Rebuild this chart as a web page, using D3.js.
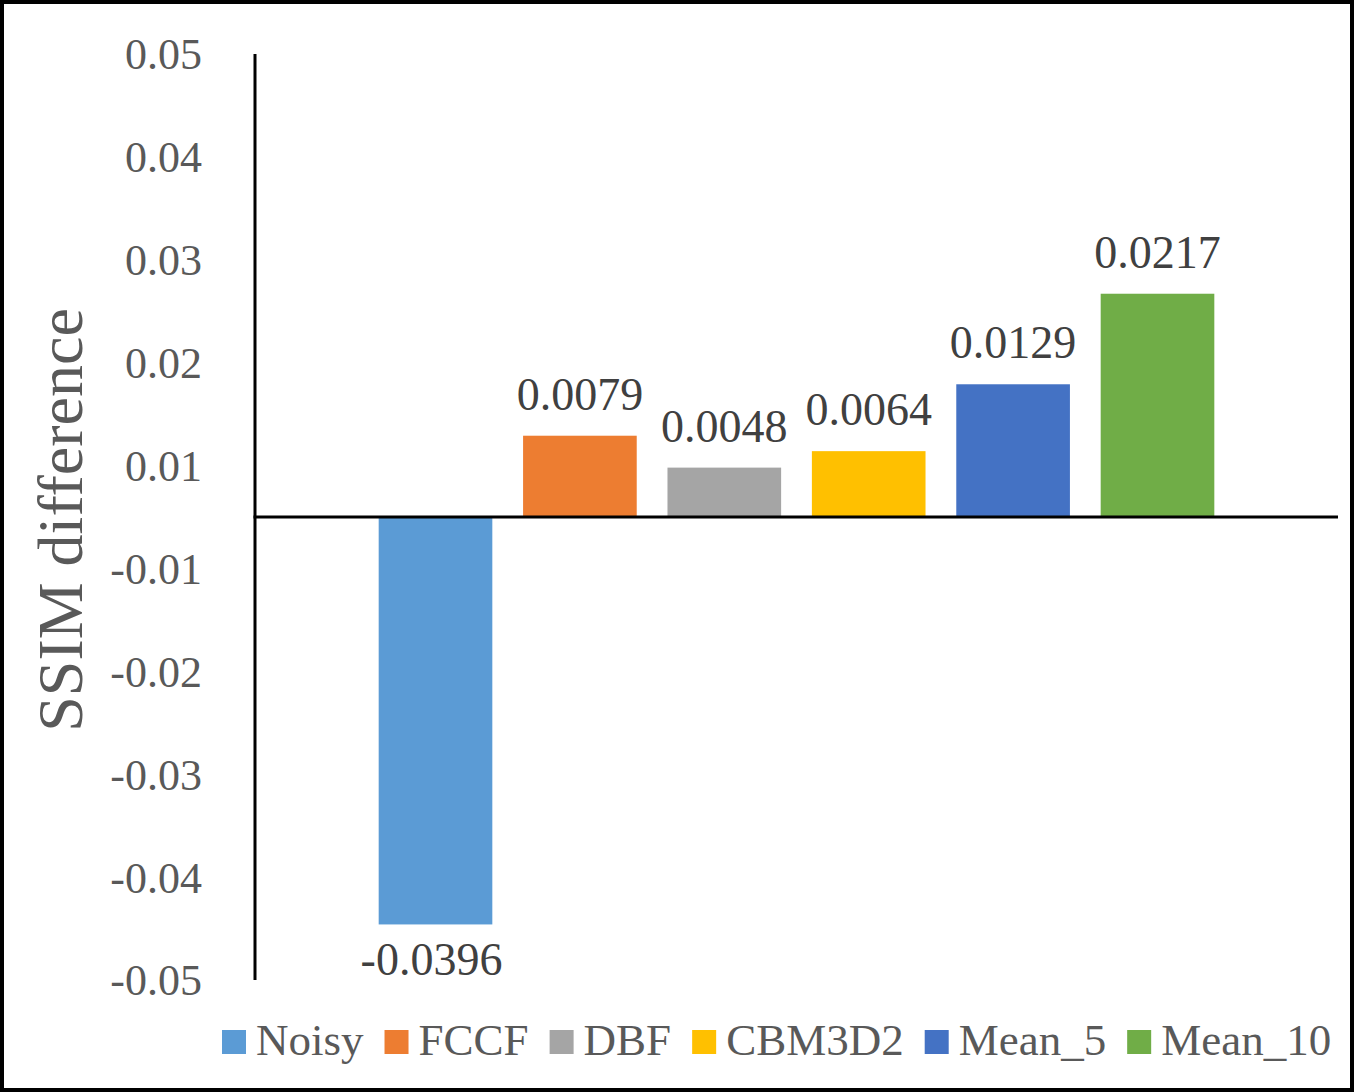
<!DOCTYPE html>
<html>
<head>
<meta charset="utf-8">
<script src="https://cdn.jsdelivr.net/npm/d3@7"></script>
<style>
  html, body { margin: 0; padding: 0; background: #fff; }
  svg { display: block; }
  text { font-family: "Liberation Serif", "Times New Roman", serif; }
</style>
</head>
<body>
<script>
// ---- data ----
const series = ["Noisy", "FCCF", "DBF", "CBM3D2", "Mean_5", "Mean_10"];
const values = [-0.0396, 0.0079, 0.0048, 0.0064, 0.0129, 0.0217];
const valueLabels = ["-0.0396", "0.0079", "0.0048", "0.0064", "0.0129", "0.0217"];
const colors = ["#5B9BD5", "#ED7D31", "#A5A5A5", "#FFC000", "#4472C4", "#70AD47"];
const tickValues = [0.045, 0.035, 0.025, 0.015, 0.005, -0.005, -0.015, -0.025, -0.035, -0.045];
const tickLabels = ["0.05", "0.04", "0.03", "0.02", "0.01", "-0.01", "-0.02", "-0.03", "-0.04", "-0.05"];
const yTitle = "SSIM difference";
const category = ["SSIM"];

// ---- layout ----
const W = 1354, H = 1092;
const plot = { left: 255, right: 1338, top: 54, bottom: 980 };

const svg = d3.select("body").append("svg").attr("width", W).attr("height", H);

svg.append("rect").attr("x", 2).attr("y", 2).attr("width", W - 4).attr("height", H - 4)
  .attr("fill", "#fff").attr("stroke", "#000").attr("stroke-width", 4);

const y = d3.scaleLinear().domain([-0.045, 0.045]).range([plot.bottom, plot.top]);
const x0 = d3.scaleBand().domain(category).range([plot.left, plot.right]).paddingOuter(0.125).paddingInner(0);
const x1 = d3.scaleBand().domain(series).range([0, x0.bandwidth()]).paddingInner(0.213).paddingOuter(0.1065);

// tick labels
const yAxis = d3.axisLeft(y).tickValues(tickValues).tickSize(0).tickPadding(0)
  .tickFormat((d, i) => tickLabels[i]);
const gy = svg.append("g").attr("transform", `translate(${plot.left - 53},0)`).call(yAxis);
gy.select(".domain").remove();
gy.selectAll("text").attr("font-size", 44).attr("fill", "#595959")
  .attr("font-family", "Liberation Serif, serif").attr("dy", "0.34em");

// bars
const gBars = svg.append("g").attr("transform", `translate(${x0(category[0])},0)`);
gBars.selectAll("rect").data(series).join("rect")
  .attr("x", d => x1(d))
  .attr("width", x1.bandwidth())
  .attr("y", (d, i) => y(Math.max(0, values[i])))
  .attr("height", (d, i) => Math.abs(y(values[i]) - y(0)))
  .attr("fill", (d, i) => colors[i]);

// data labels
gBars.selectAll("text").data(series).join("text")
  .attr("x", (d, i) => x1(d) + x1.bandwidth() / 2 - (values[i] < 0 ? 4 : 0))
  .attr("y", (d, i) => values[i] >= 0 ? y(values[i]) - 26 : y(values[i]) + 51)
  .attr("text-anchor", "middle")
  .attr("font-size", 46)
  .attr("fill", "#404040")
  .text((d, i) => valueLabels[i]);

// axes lines
svg.append("line").attr("x1", plot.left).attr("x2", plot.left)
  .attr("y1", plot.top).attr("y2", plot.bottom)
  .attr("stroke", "#000").attr("stroke-width", 3);
svg.append("line").attr("x1", plot.left - 1.5).attr("x2", plot.right)
  .attr("y1", y(0)).attr("y2", y(0))
  .attr("stroke", "#000").attr("stroke-width", 3);

// y title
svg.append("text")
  .attr("transform", `translate(82,${(plot.top + plot.bottom) / 2 + 3}) rotate(-90)`)
  .attr("text-anchor", "middle")
  .attr("font-size", 64)
  .attr("fill", "#595959")
  .text(yTitle);

// legend
const legend = svg.append("g");
let lx = 222;
const ly = 1055;
series.forEach((s, i) => {
  legend.append("rect").attr("x", lx).attr("y", ly - 25).attr("width", 24).attr("height", 24)
    .attr("fill", colors[i]);
  const t = legend.append("text").attr("x", lx + 34).attr("y", ly)
    .attr("font-size", 45).attr("fill", "#595959").text(s);
  const w = t.node().getComputedTextLength();
  lx = lx + 34 + w + 21;
});
</script>
</body>
</html>
